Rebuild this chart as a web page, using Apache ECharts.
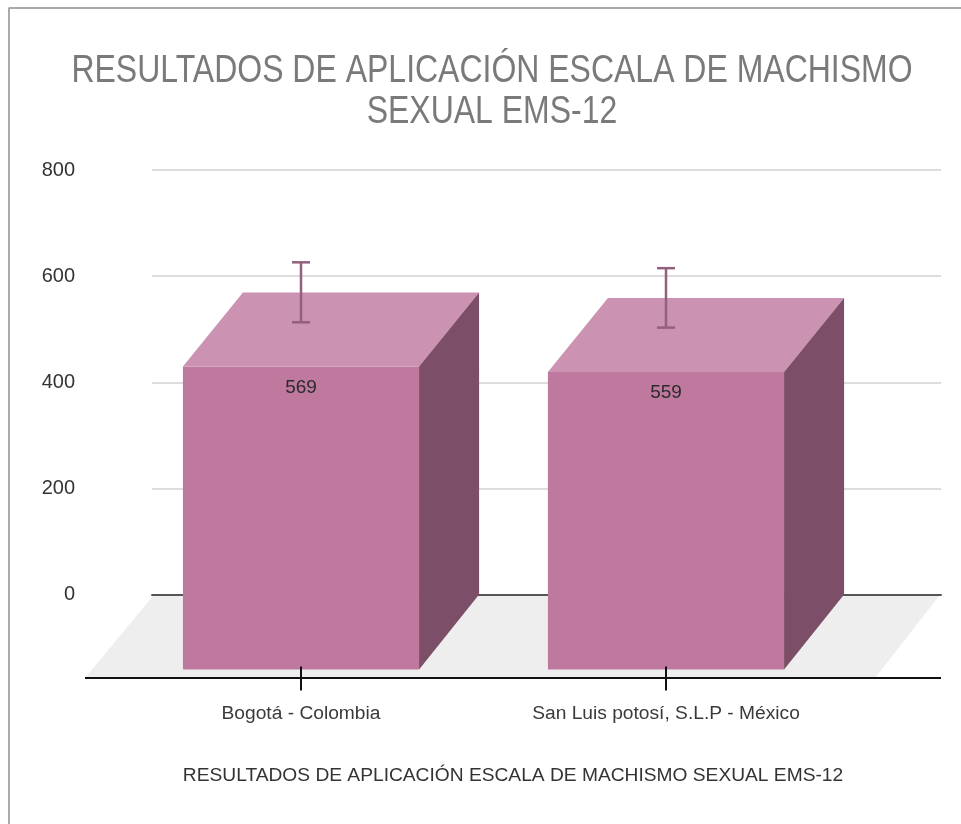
<!DOCTYPE html>
<html>
<head>
<meta charset="utf-8">
<style>html,body{margin:0;padding:0;background:#fff}#c{width:961px;height:824px}</style>
<script src="https://cdn.jsdelivr.net/npm/echarts@6/dist/echarts.min.js"></script>
</head>
<body>
<div id="c"></div>
<script>
const titleLines = ['RESULTADOS DE APLICACIÓN ESCALA DE MACHISMO', 'SEXUAL EMS-12'];
const axisTitle = 'RESULTADOS DE APLICACIÓN ESCALA DE MACHISMO SEXUAL EMS-12';
const categories = ['Bogotá - Colombia', 'San Luis potosí, S.L.P - México'];
const values = [569, 559];
const errorHigh = [626, 615];
const errorLow = [513, 503];
const yTicks = { min: 0, max: 800, interval: 200 };

const FONT = '"Liberation Sans", Arial, sans-serif';
const depth = { dx: 60, dy: 74 };
const barRatio = 0.647;

function poly(points, fill) {
  return { type: 'polygon', shape: { points }, style: { fill } };
}
function titleLine(text, y) {
  return { type: 'text', x: 492, y, scaleX: 0.82, z: 10,
    style: { text, align: 'center', verticalAlign: 'middle', fontFamily: FONT, fontSize: 39, fill: '#7a7a7a' } };
}

const chart = echarts.init(document.getElementById('c'), null, { renderer: 'canvas' });
chart.setOption({
  backgroundColor: '#ffffff',
  animation: false,
  title: [
    { text: axisTitle, left: 508, top: 761, textAlign: 'center',
      textStyle: { fontFamily: FONT, fontSize: 19.2, fontWeight: 'normal', color: '#333333' } }
  ],
  grid: [
    { left: 118.5, width: 730, top: 170, height: 424.5, containLabel: false },
    { left: 152, width: 789, top: 170, height: 424.5, containLabel: false }
  ],
  xAxis: [
    { type: 'category', gridIndex: 0, data: categories, offset: 84,
      axisLine: { show: false },
      axisTick: { show: false },
      axisLabel: { margin: 26, fontFamily: FONT, fontSize: 19.2, color: '#3a3a3a', interval: 0 },
      splitLine: { show: false } },
    { type: 'value', gridIndex: 1, min: 0, max: 1,
      axisLine: { show: true, onZero: false, lineStyle: { color: '#555', width: 2 } },
      axisTick: { show: false }, axisLabel: { show: false }, splitLine: { show: false } }
  ],
  yAxis: [
    { type: 'value', gridIndex: 0, min: yTicks.min, max: yTicks.max, interval: yTicks.interval, show: false },
    { type: 'value', gridIndex: 1, min: yTicks.min, max: yTicks.max, interval: yTicks.interval,
      axisLine: { show: false }, axisTick: { show: false },
      axisLabel: { margin: 77, fontFamily: FONT, fontSize: 20, color: '#333333' },
      splitLine: { show: true, lineStyle: { color: '#d2d2d2', width: 1.5 } } }
  ],
  series: [
    {
      type: 'custom', name: 'floor', xAxisIndex: 1, yAxisIndex: 1, z: 1, silent: true,
      data: [[0, 0]],
      renderItem(params, api) {
        const g = params.coordSys;
        const y0 = api.coord([0, 0])[1];
        const l = g.x, r = g.x + g.width;
        const front = y0 + 83.5;
        return { type: 'group', children: [
          poly([[l + 1, y0 + 1.5], [r - 2, y0 + 1.5], [r - 66, front], [l - 67, front]], '#eeeeee'),
          { type: 'line', shape: { x1: l - 67, y1: front, x2: r, y2: front },
            style: { stroke: '#111111', lineWidth: 2 } }
        ] };
      }
    },
    {
      type: 'custom', name: 'bars', xAxisIndex: 0, yAxisIndex: 0, z: 3,
      data: values.map((v, i) => [i, v, errorLow[i], errorHigh[i]]),
      renderItem(params, api) {
        const i = api.value(0);
        const top = api.coord([i, api.value(1)]);
        const base = api.coord([i, 0]);
        const lo = api.coord([i, api.value(2)]);
        const hi = api.coord([i, api.value(3)]);
        const half = api.size([1, 0])[0] * barRatio / 2;
        const cx = top[0];
        const fl = cx - half, fr = cx + half;
        const bt = top[1], bb = base[1];
        const ft = bt + depth.dy, fb = bb + depth.dy + 1;
        const cap = 9;
        const err = { stroke: '#93607e', lineWidth: 2.5 };
        return { type: 'group', children: [
          poly([[fl, ft], [fr, ft], [fr, fb], [fl, fb]], '#bf789e'),
          poly([[fl, ft], [fl + depth.dx, bt], [fr + depth.dx, bt], [fr, ft]], '#cb92b1'),
          poly([[fr, ft], [fr + depth.dx, bt], [fr + depth.dx, bb], [fr, fb]], '#7d4e67'),
          { type: 'line', shape: { x1: cx, y1: hi[1], x2: cx, y2: lo[1] }, style: err },
          { type: 'line', shape: { x1: cx - cap, y1: hi[1], x2: cx + cap, y2: hi[1] }, style: err },
          { type: 'line', shape: { x1: cx - cap, y1: lo[1], x2: cx + cap, y2: lo[1] }, style: err },
          { type: 'line', shape: { x1: cx, y1: fb - 3, x2: cx, y2: base[1] + 96 },
            style: { stroke: '#111', lineWidth: 2 } },
          { type: 'text', style: { text: String(api.value(1)), x: cx, y: ft + 21, align: 'center',
              verticalAlign: 'middle', fontFamily: FONT, fontSize: 19, fill: '#2b2b2b' } }
        ] };
      }
    }
  ],
  graphic: [
    titleLine(titleLines[0], 71),
    titleLine(titleLines[1], 112),
    { type: 'line', shape: { x1: 8.5, y1: 8, x2: 961, y2: 8 }, style: { stroke: '#aaaaaa', lineWidth: 2 } },
    { type: 'line', shape: { x1: 9, y1: 8, x2: 9, y2: 824 }, style: { stroke: '#aaaaaa', lineWidth: 2 } }
  ]
});
</script>
</body>
</html>
